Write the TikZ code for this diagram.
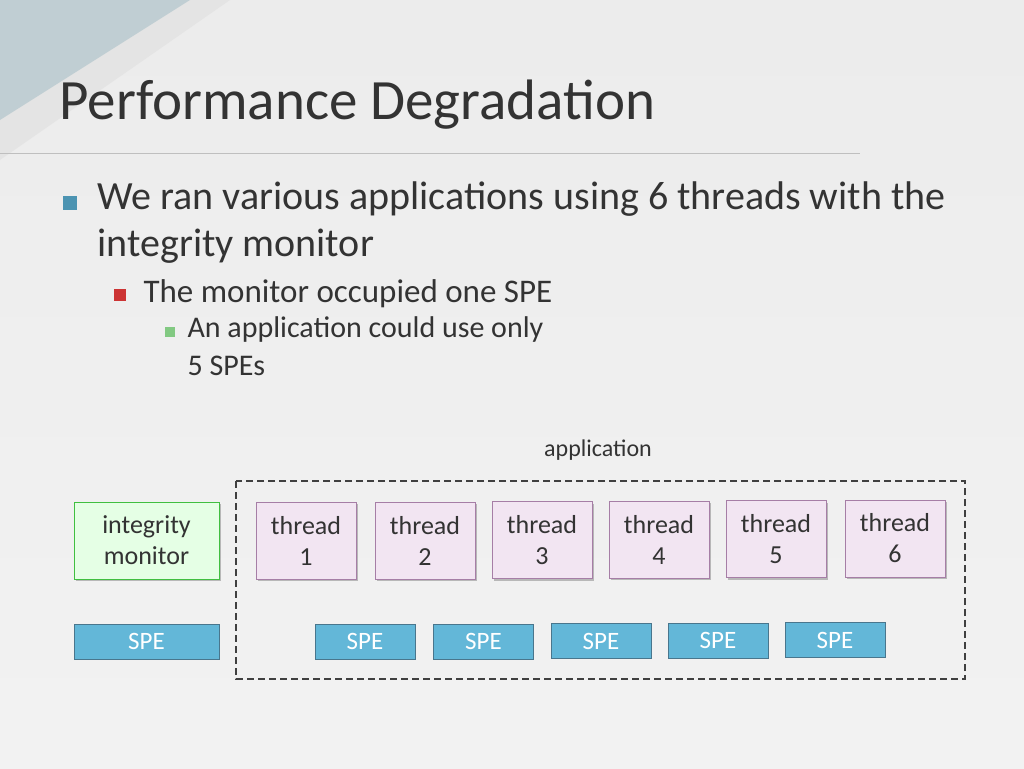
\documentclass[tikz,border=0pt]{standalone}
\usepackage{fontspec}
\usetikzlibrary{shadows}
\setmainfont{Carlito}
\begin{document}
\begin{tikzpicture}[x=1pt,y=-1pt,
  thr/.style={draw=violet!45!gray!70,fill=violet!10,minimum width=100pt,minimum height=77pt,align=center,font=\fontsize{26}{31}\selectfont,text=black!80,drop shadow},
  spe/.style={draw=cyan!50!black,fill=cyan!60!teal!70,minimum width=100pt,minimum height=35pt,font=\fontsize{25}{28}\selectfont,text=white},
  bul/.style={anchor=west,text=black!80}]
\useasboundingbox (0,0) rectangle (1024,768);
\shade[top color=gray!15,bottom color=gray!10] (0,0) rectangle (1024,768);
\fill[gray!25,opacity=0.6] (0,0) -- (230,0) -- (0,160) -- cycle;
\fill[blue!25!cyan!20!gray!50,opacity=0.7] (0,0) -- (190,0) -- (0,120) -- cycle;
\node[bul,font=\fontsize{57}{60}\selectfont] (title) at (56,105) {Performance Degradation};
\draw[gray!50] (0,153) -- (860,153);
\fill[blue!30!cyan!40!gray] (63,196) rectangle (77,210);
\node[bul,font=\fontsize{40}{47}\selectfont,align=left,anchor=north west] (b1) at (94,178) {We ran various applications using 6 threads with the\\integrity monitor};
\fill[red!60!gray] (114,289) rectangle (126,301);
\node[bul,font=\fontsize{33}{36}\selectfont] (b2) at (140,294) {The monitor occupied one SPE};
\fill[green!40!gray!70] (165,327) rectangle (175,337);
\node[bul,font=\fontsize{30}{38}\selectfont,align=left,anchor=north west] (b3) at (184,313) {An application could use only\\5 SPEs};
\node[font=\fontsize{24}{28}\selectfont,text=black!80] (app) at (598,450) {application};
\draw[dash pattern=on 7pt off 4pt,line width=2pt,black!75] (236,481) rectangle (965,679);
\node[thr,draw=green!50!gray,fill=green!10,minimum width=145pt] (im) at (146.5,540.5) {integrity\\monitor};
\node[thr] (t1) at (306,540.5) {thread\\1};
\node[thr] (t2) at (425,540.5) {thread\\2};
\node[thr] (t3) at (542,540) {thread\\3};
\node[thr] (t4) at (659,539.5) {thread\\4};
\node[thr] (t5) at (776,539) {thread\\5};
\node[thr] (t6) at (895,538.5) {thread\\6};
\node[spe,minimum width=145pt] (s0) at (146.5,641.5) {SPE};
\node[spe] (s1) at (365,641.5) {SPE};
\node[spe] (s2) at (483.5,641.5) {SPE};
\node[spe] (s3) at (601,641) {SPE};
\node[spe] (s4) at (718,640.5) {SPE};
\node[spe] (s5) at (835,640) {SPE};
\end{tikzpicture}
\end{document}
